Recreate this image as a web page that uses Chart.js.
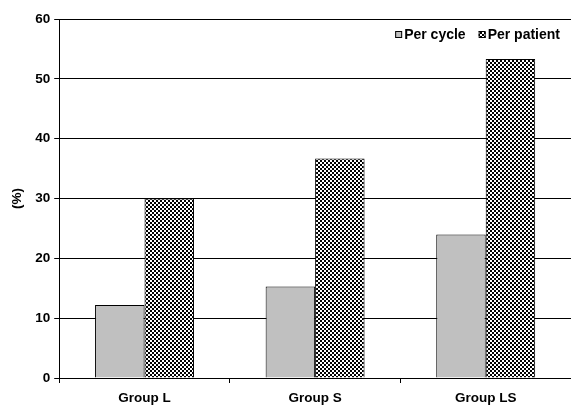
<!DOCTYPE html>
<html>
<head>
<meta charset="utf-8">
<script src="https://cdn.jsdelivr.net/npm/chart.js@4"></script>
<style>
  html, body { margin: 0; padding: 0; background: #fff; }
  #wrap { width: 571px; height: 406px; }
</style>
</head>
<body>
<div id="wrap"><canvas id="chart" width="571" height="406"></canvas></div>
<script>
const groups = ["Group L", "Group S", "Group LS"];
const perCycle = [12.2, 15.3, 24.0];
const perPatient = [30.0, 36.7, 53.3];
const yTicks = [0, 10, 20, 30, 40, 50, 60];

function checker() {
  const c = document.createElement("canvas");
  c.width = 4;
  c.height = 4;
  const g = c.getContext("2d");
  g.fillStyle = "#fff";
  g.fillRect(0, 0, 4, 4);
  g.fillStyle = "#000";
  g.fillRect(0, 0, 2, 2);
  g.fillRect(2, 2, 2, 2);
  return g.createPattern(c, "repeat");
}

const font = { family: "Liberation Sans, Arial, sans-serif", size: 13.5, weight: "bold" };
const legendFont = "bold 14px 'Liberation Sans', Arial, sans-serif";
const ctx = document.getElementById("chart").getContext("2d");

// small legend drawn inside the plot, top right
const cornerLegend = {
  id: "cornerLegend",
  afterDraw(chart) {
    const c = chart.ctx;
    const area = chart.chartArea;
    const y = area.top + 16;
    c.save();
    c.font = legendFont;
    c.textBaseline = "middle";
    let x = area.right - 11;
    const items = chart.data.datasets.slice().reverse();
    items.forEach((ds) => {
      const w = c.measureText(ds.label).width;
      x -= w;
      c.fillStyle = "#000";
      c.fillText(ds.label, x, y);
      x -= 9;
      c.fillStyle = ds.backgroundColor;
      c.fillRect(x, y - 4, 7, 7);
      c.strokeStyle = "#000";
      c.lineWidth = 1;
      c.strokeRect(x + 0.5, y - 3.5, 6, 6);
      x -= 13;
    });
    c.restore();
  },
};

new Chart(ctx, {
  type: "bar",
  data: {
    labels: groups,
    datasets: [
      {
        label: "Per cycle",
        data: perCycle,
        backgroundColor: "#c0c0c0",
        borderColor: "#000",
        borderWidth: 1,
        barPercentage: 1,
        categoryPercentage: 0.58,
      },
      {
        label: "Per patient",
        data: perPatient,
        backgroundColor: checker(),
        borderColor: "#000",
        borderWidth: 1,
        barPercentage: 1,
        categoryPercentage: 0.58,
      },
    ],
  },
  plugins: [cornerLegend],
  options: {
    responsive: false,
    animation: false,
    layout: { padding: { top: 19, right: 0, left: 3, bottom: 0 } },
    plugins: {
      tooltip: { enabled: false },
      legend: { display: false },
    },
    scales: {
      x: {
        grid: { display: true, offset: true, drawOnChartArea: false, color: "#000", tickLength: 5 },
        border: { color: "#000" },
        ticks: { color: "#000", font: font, padding: 7 },
        afterFit: (axis) => { axis.height = 28; },
      },
      y: {
        min: 0,
        max: 60,
        afterBuildTicks: (axis) => { axis.ticks = yTicks.map((v) => ({ value: v })); },
        grid: { color: "#000", tickLength: 5 },
        border: { color: "#000" },
        ticks: { color: "#000", font: font, padding: 4 },
        title: { display: true, text: "(%)", color: "#000", font: font, padding: 6 },
      },
    },
  },
});
</script>
</body>
</html>
